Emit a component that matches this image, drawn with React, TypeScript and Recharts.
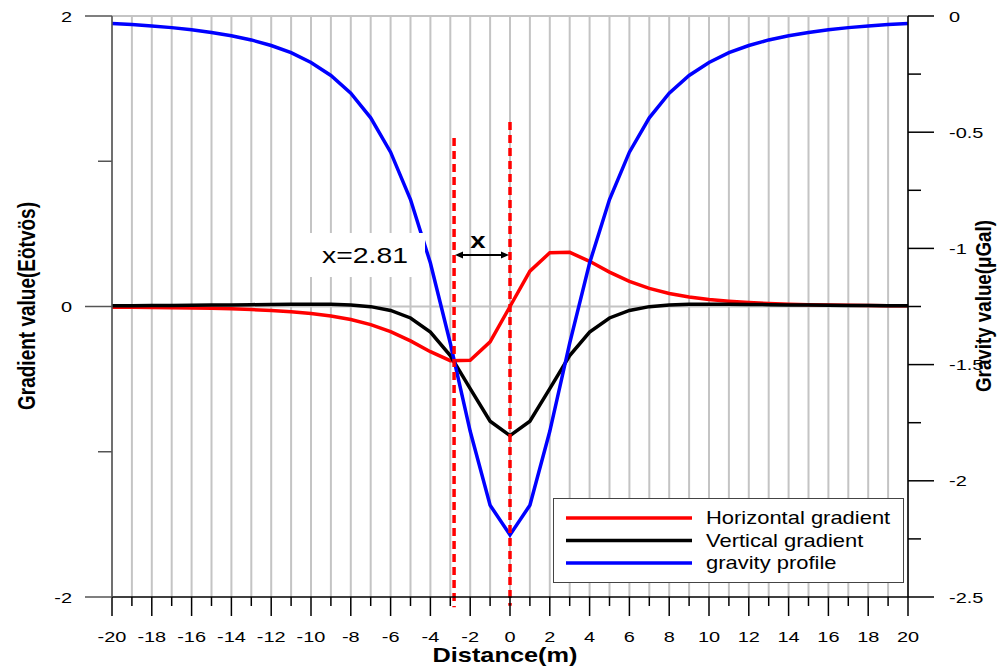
import { LineChart, Line, XAxis, YAxis, ReferenceLine } from 'recharts'

const font = '"Liberation Sans", Arial, sans-serif'
const red = '#ff0000', black = '#000000', blue = '#0000ff', grid = '#c4c4c4'

// distance (m)
const distance = [-20, -19, -18, -17, -16, -15, -14, -13, -12, -11, -10, -9, -8, -7, -6, -5, -4, -3, -2, -1, 0,
  1, 2, 3, 4, 5, 6, 7, 8, 9, 10, 11, 12, 13, 14, 15, 16, 17, 18, 19, 20]

// Eötvös, left axis
const horizontalGradient = [-0.0045, -0.0054, -0.0066, -0.0082, -0.010, -0.0127, -0.016, -0.021, -0.027, -0.036, -0.048,
  -0.065, -0.090, -0.125, -0.173, -0.237, -0.311, -0.373, -0.370, -0.243, 0,
  0.243, 0.370, 0.373, 0.311, 0.237, 0.173, 0.125, 0.090, 0.065, 0.048,
  0.036, 0.027, 0.021, 0.016, 0.0127, 0.010, 0.0082, 0.0066, 0.0054, 0.0045]

const verticalGradient = [0.0052, 0.0059, 0.0067, 0.0076, 0.0087, 0.0098, 0.011, 0.0126, 0.014, 0.0153, 0.016,
  0.015, 0.010, -0.001, -0.027, -0.079, -0.176, -0.338, -0.565, -0.790, -0.889,
  -0.790, -0.565, -0.338, -0.176, -0.079, -0.027, -0.001, 0.010, 0.015, 0.016,
  0.0153, 0.014, 0.0126, 0.011, 0.0098, 0.0087, 0.0076, 0.0067, 0.0059, 0.0052]

// μGal, right axis
const gravityProfile = [-0.032, -0.037, -0.043, -0.050, -0.059, -0.071, -0.085, -0.103, -0.127, -0.158, -0.200,
  -0.256, -0.332, -0.438, -0.586, -0.790, -1.063, -1.408, -1.787, -2.105, -2.233,
  -2.105, -1.787, -1.408, -1.063, -0.790, -0.586, -0.438, -0.332, -0.256, -0.200,
  -0.158, -0.127, -0.103, -0.085, -0.071, -0.059, -0.050, -0.043, -0.037, -0.032]

const xTicks = distance
const leftTicks = [-2, -1, 0, 1, 2]
const rightTicks = [0, -0.25, -0.5, -0.75, -1, -1.25, -1.5, -1.75, -2, -2.25, -2.5]
const gridRows = [0, 2]

// 峰值距離
const offsetX = -2.81
const series = [
  { key: 'h', name: 'Horizontal gradient', color: red },
  { key: 'v', name: 'Vertical gradient', color: black },
  { key: 'g', name: 'gravity profile', color: blue },
]

const rows = distance.map((x, i) => ({
  x, h: horizontalGradient[i], v: verticalGradient[i], g: gravityProfile[i],
}))

function Wide({ x, y, sx = 1.33, size = 15, anchor = 'middle', weight = 400, children }: any) {
  return (
    <text transform={`translate(${x},${y}) scale(${sx},1)`} textAnchor={anchor} fontSize={size}
      fontWeight={weight} fontFamily={font} fill="#000">{children}</text>
  )
}

const XTick = (p: any) => {
  const v = p.payload.value
  const major = v % 2 === 0
  return (
    <g>
      <line x1={p.x} x2={p.x} y1={p.y} y2={p.y + (major ? 19 : 9)} stroke="#000" strokeWidth={1.5} />
      {major && <Wide x={p.x} y={p.y + 45}>{v}</Wide>}
    </g>
  )
}

const LeftTick = (p: any) => {
  const v = p.payload.value
  const major = v % 2 === 0
  return (
    <g>
      <line x1={p.x - (major ? 27 : 14)} x2={p.x} y1={p.y} y2={p.y} stroke="#555" strokeWidth={1.5} />
      {major && <Wide x={p.x - 40} y={p.y + 5.5} anchor="end">{v}</Wide>}
    </g>
  )
}

const RightTick = (p: any) => {
  const v = p.payload.value
  const major = Math.abs((v * 2) % 1) < 1e-6
  return (
    <g>
      <line x1={p.x} x2={p.x + (major ? 26 : 13)} y1={p.y} y2={p.y} stroke="#000" strokeWidth={1.5} />
      {major && <Wide x={p.x + 41} y={p.y + 5.5} anchor="start">{v}</Wide>}
    </g>
  )
}

export default function App() {
  return (
    <div style={{ position: 'absolute', left: 0, top: 0, width: 1000, height: 669, background: '#fff' }}>
      <LineChart width={1000} height={669} data={rows} margin={{ top: 16, right: 0, bottom: 0, left: 0 }}>
        {/* 格線 */}
        {xTicks.map(v => (
          <ReferenceLine key={'gx' + v} yAxisId="l" x={v} stroke={grid} strokeWidth={2} />
        ))}
        {gridRows.map(v => (
          <ReferenceLine key={'gy' + v} yAxisId="l" y={v} stroke={grid} strokeWidth={2} />
        ))}
        <XAxis dataKey="x" type="number" domain={[-20, 20]} ticks={xTicks} interval={0} height={72}
          tickSize={0} tickMargin={0} tickLine={false} tick={XTick} axisLine={{ stroke: '#000', strokeWidth: 1.5 }} />
        <YAxis yAxisId="l" domain={[-2, 2]} ticks={leftTicks} interval={0} width={112}
          tickSize={0} tickMargin={0} tickLine={false} tick={LeftTick} axisLine={{ stroke: '#555', strokeWidth: 1.5 }} />
        <YAxis yAxisId="r" orientation="right" domain={[-2.5, 0]} ticks={rightTicks} interval={0} width={92}
          tickSize={0} tickMargin={0} tickLine={false} tick={RightTick} axisLine={{ stroke: '#000', strokeWidth: 1.5 }} />
        <Line yAxisId="l" dataKey="h" name="Horizontal gradient" stroke={red} strokeWidth={3.5} dot={false} isAnimationActive={false} />
        <Line yAxisId="l" dataKey="v" name="Vertical gradient" stroke={black} strokeWidth={3.5} dot={false} isAnimationActive={false} />
        <Line yAxisId="r" dataKey="g" name="gravity profile" stroke={blue} strokeWidth={3.5} dot={false} isAnimationActive={false} />
        <ReferenceLine yAxisId="l" ifOverflow="visible" segment={[{ x: offsetX, y: 1.16 }, { x: offsetX, y: -2.07 }]}
          stroke={red} strokeWidth={3.5} strokeDasharray="8 5" />
        <ReferenceLine yAxisId="l" ifOverflow="visible" segment={[{ x: 0, y: 1.27 }, { x: 0, y: -2.06 }]}
          stroke={red} strokeWidth={3.5} strokeDasharray="8 5" />
      </LineChart>

      <svg width={1000} height={669} style={{ position: 'absolute', left: 0, top: 0, pointerEvents: 'none' }}>
        {/* axis titles */}
        <text transform="translate(35,306) rotate(-90)" textAnchor="middle" fontSize={23} fontWeight={700}
          fontFamily={font} textLength={208} lengthAdjust="spacingAndGlyphs">Gradient value(Eötvös)</text>
        <text transform="translate(991,306) rotate(-90)" textAnchor="middle" fontSize={22} fontWeight={700}
          fontFamily={font} textLength={172} lengthAdjust="spacingAndGlyphs">Gravity value(μGal)</text>
        <Wide x={505} y={662} size={19.5} weight={700} sx={1.3}>Distance(m)</Wide>

        {/* annotation */}
        <rect x={310} y={233} width={115} height={44} fill="#fff" />
        <Wide x={322} y={263} size={22} sx={1.29} anchor="start">x=2.81</Wide>
        <Wide x={478} y={248} size={22} sx={1.25} weight={700}>x</Wide>
        <line x1={460} x2={504} y1={255} y2={255} stroke="#000" strokeWidth={2} />
        <polygon points="455,255 463,251.5 463,258.5" fill="#000" />
        <polygon points="509,255 501,251.5 501,258.5" fill="#000" />

        {/* legend */}
        <rect x={553.5} y={498.5} width={350} height={84} fill="#fff" stroke="#444" strokeWidth={1} />
        {series.map((s, i) => (
          <g key={s.key}>
            <line x1={566} x2={692} y1={518 + i * 22.5} y2={518 + i * 22.5} stroke={s.color} strokeWidth={3.5} />
            <Wide x={706} y={524 + i * 22.5} size={18} sx={1.22} anchor="start">{s.name}</Wide>
          </g>
        ))}
      </svg>
    </div>
  )
}
